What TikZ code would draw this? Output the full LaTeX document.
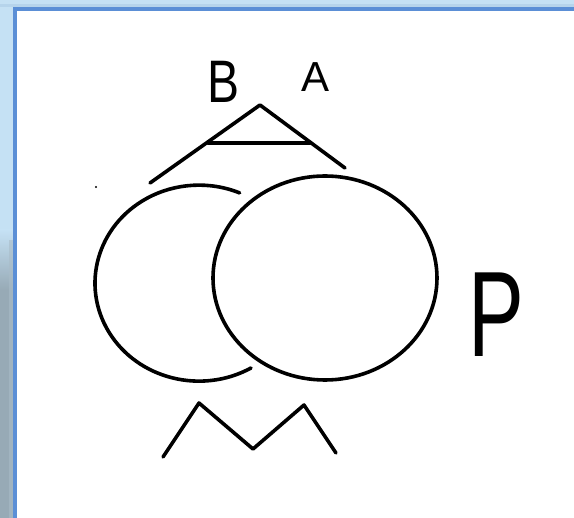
\documentclass[tikz,border=0pt]{standalone}
\usepackage{fontspec}
\setmainfont{Liberation Sans}
\usepackage{tikz}
\usetikzlibrary{positioning}
\definecolor{Ink}{HTML}{000000}
\definecolor{Frame}{HTML}{5B8FD6}
\definecolor{SkyTop}{HTML}{C5E1F4}
\definecolor{SkyLow}{HTML}{B6D4EB}
\definecolor{Slate}{HTML}{97AAB6}
\definecolor{SlateLight}{HTML}{A9BCC8}

\begin{document}
\begin{tikzpicture}[
  x=0.5pt, y=-0.5pt,
  stroke/.style={draw=Ink, line width=1.8pt, line cap=round, line join=round},
  letter/.style={inner sep=0pt, anchor=base, text=Ink}
]
\useasboundingbox (0,0) rectangle (574,518);
\fill[white] (0,0) rectangle (574,518);

% window frame
\fill[SkyTop] (0,0) rectangle (574,4);
\fill[SkyLow] (0,4) rectangle (574,7);
\fill[SkyTop] (0,7) rectangle (13,230);
\shade[top color=SkyTop, bottom color=Slate] (0,230) rectangle (13,290);
\fill[Slate] (0,290) rectangle (13,518);
\fill[SlateLight, opacity=.6] (9,240) rectangle (13,518);
\fill[Frame] (13,7) rectangle (574,11);
\fill[Frame] (13,7) rectangle (17,518);

% labels
\node[letter, font=\fontsize{30}{30}\selectfont, xscale=.8] (b) at (224,103) {B};
\node[letter, font=\fontsize{21}{21}\selectfont] (a) at (316,92) {A};
\node[letter, font=\fontsize{38}{38}\selectfont, xscale=1.1, yscale=1.6] (p) at (496,357) {P};

% hat
\draw[stroke] (150,183) -- (260,105) -- (345,168);
\draw[stroke] (208,143) -- (310,143);

% left arc and right ring
\draw[stroke] (251,368) arc[start angle=60, end angle=293, x radius=104, y radius=98];
\draw[stroke] (325,278) ellipse[x radius=112, y radius=102];

% zigzag
\draw[stroke] (163,457) -- (199,403) -- (253,449) -- (304,405) -- (336,453);

% speck
\fill[Ink] (96,187) circle[radius=1.2];
\end{tikzpicture}
\end{document}
